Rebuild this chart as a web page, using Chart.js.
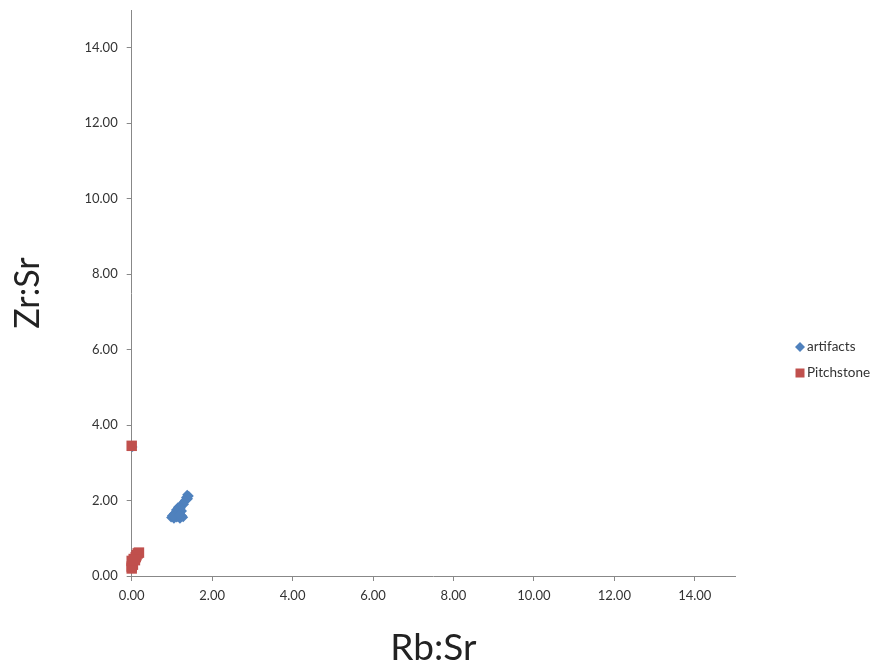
<!DOCTYPE html>
<html>
<head>
<meta charset="utf-8">
<script src="https://cdn.jsdelivr.net/npm/chart.js@4/dist/chart.umd.min.js"></script>
<style>
html,body{margin:0;padding:0;background:#fff;}
#wrap{width:877px;height:670px;position:relative;}
</style>
</head>
<body>
<div id="wrap"><canvas id="c" width="877" height="670"></canvas></div>
<script>
const seriesNames = ["artifacts", "Pitchstone"];
const artifactsX = [1.38,1.42,1.35,1.40,1.32,1.28,1.30,1.25,1.20,1.22,1.15,1.18,1.10,1.25,1.12,1.05,1.20,1.00,1.08,1.15,1.25,0.98,1.05,1.12,1.20,1.28,1.02,1.18,0.02,0.03,0.08];
const artifactsY = [2.15,2.12,2.08,2.05,2.00,1.95,1.90,1.88,1.85,1.80,1.82,1.75,1.75,1.72,1.68,1.65,1.65,1.60,1.60,1.58,1.60,1.55,1.52,1.55,1.52,1.56,1.58,1.62,3.42,0.30,0.45];
const pitchX = [0.00,0.00,0.02,0.00,0.05,0.10,0.15,0.18,0.12,0.03,0.00,0.08];
const pitchY = [3.45,0.25,0.35,0.40,0.45,0.50,0.60,0.62,0.55,0.30,0.20,0.42];
const xTicks = [0,2,4,6,8,10,12,14];
const yTicks = [0,2,4,6,8,10,12,14];
const colors = ["#4F81BD", "#C0504D"];

const toPts = (xs, ys) => xs.map((x, i) => ({x: x, y: ys[i]}));

const legendPlugin = {
  id: 'sideLegend',
  afterDraw(chart) {
    const ctx = chart.ctx;
    ctx.save();
    ctx.font = '13.5px Lato, "Open Sans", sans-serif';
    ctx.textBaseline = 'middle';
    const x0 = 800, ys = [347, 373];
    const items = chart.data.datasets.slice().sort((a, b) => a.legendIndex - b.legendIndex);
    items.forEach((ds, i) => {
      const y = ys[i];
      ctx.fillStyle = ds.backgroundColor;
      if (ds.pointStyle === 'rectRot') {
        ctx.beginPath();
        ctx.moveTo(x0, y - 5); ctx.lineTo(x0 + 5, y); ctx.lineTo(x0, y + 5); ctx.lineTo(x0 - 5, y); ctx.closePath();
        ctx.fill();
      } else {
        ctx.fillRect(x0 - 4.5, y - 4.5, 9, 9);
      }
      ctx.fillStyle = '#333';
      ctx.fillText(ds.label, x0 + 7, y);
    });
    ctx.restore();
  }
};

new Chart(document.getElementById('c'), {
  type: 'scatter',
  data: {
    datasets: [
      {label: seriesNames[0], legendIndex: 0, order: 2, clip: false, data: toPts(artifactsX, artifactsY), pointStyle: 'rectRot', pointRadius: 5, backgroundColor: colors[0], borderColor: colors[0], borderWidth: 0},
      {label: seriesNames[1], legendIndex: 1, order: 1, clip: false, data: toPts(pitchX, pitchY), pointStyle: 'rect', pointRadius: 7.4, backgroundColor: colors[1], borderColor: colors[1], borderWidth: 0}
    ]
  },
  options: {
    responsive: false,
    animation: false,
    devicePixelRatio: 1,
    layout: {padding: {top: 10, right: 142, left: 0, bottom: 0}},
    plugins: {legend: {display: false}, tooltip: {enabled: false}},
    scales: {
      x: {
        type: 'linear', min: 0, max: 15,
        afterBuildTicks: s => { s.ticks = xTicks.map(v => ({value: v})); },
        afterFit: s => { s.height = 94; s.paddingLeft = 0; s.paddingRight = 0; },
        grid: {drawOnChartArea: false, drawTicks: true, tickLength: 5, color: '#888'},
        border: {display: true, color: '#888', width: 1},
        ticks: {padding: 7, color: '#333', font: {size: 13, family: 'Lato, "Open Sans", sans-serif'}, callback: v => v.toFixed(2), maxRotation: 0},
        title: {display: true, text: 'Rb:Sr', color: '#222', font: {size: 37, family: 'Lato, "Open Sans", sans-serif'}, padding: {top: 0, bottom: 0}}
      },
      y: {
        type: 'linear', min: 0, max: 15,
        afterBuildTicks: s => { s.ticks = yTicks.map(v => ({value: v})); },
        afterFit: s => { s.width = 131.7; s.paddingTop = 0; s.paddingBottom = 0; },
        grid: {drawOnChartArea: false, drawTicks: true, tickLength: 5, color: '#888'},
        border: {display: true, color: '#888', width: 1},
        ticks: {padding: 9, color: '#333', font: {size: 13, family: 'Lato, "Open Sans", sans-serif'}, callback: v => v.toFixed(2)},
        title: {display: true, text: 'Zr:Sr', color: '#222', font: {size: 34, family: 'Lato, "Open Sans", sans-serif'}, padding: {top: 8, bottom: 0}}
      }
    }
  },
  plugins: [legendPlugin]
});
</script>
</body>
</html>
